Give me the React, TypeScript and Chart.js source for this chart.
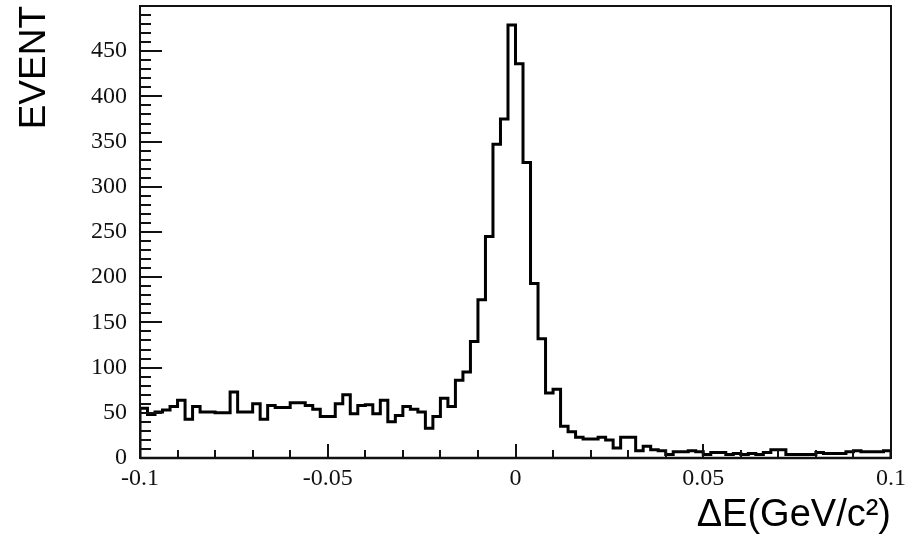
import React, { useEffect, useRef } from "react";
import { Chart, registerables } from "chart.js";

Chart.register(...registerables);

// Histogram definition: ΔE from -0.1 to 0.1 GeV, 100 bins
const histMin = -0.1;
const histMax = 0.1;

// Event counts per bin
const counts: number[] = [
  55, 48, 51, 53, 57, 64, 43, 57, 51, 51,
  50, 50, 73, 51, 51, 60, 43, 58, 56, 56,
  61, 61, 58, 54, 46, 46, 60, 70, 49, 58,
  59, 49, 64, 40, 47, 57, 54, 51, 33, 46,
  66, 57, 86, 95, 129, 175, 245, 347, 375, 479,
  436, 327, 193, 132, 72, 76, 35, 29, 23, 21,
  21, 23, 20, 11, 23, 23, 8, 13, 9, 8,
  4, 7, 7, 8, 7, 4, 6, 6, 4, 5,
  4, 5, 4, 6, 9, 9, 4, 4, 4, 4,
  6, 5, 5, 5, 7, 8, 7, 7, 7, 8,
];

const xTickValues: number[] = [-0.1, -0.05, 0, 0.05, 0.1];
const xTickLabels: string[] = ["-0.1", "-0.05", "0", "0.05", "0.1"];
const xMinorStep = 0.01;
const yTickValues: number[] = [0, 50, 100, 150, 200, 250, 300, 350, 400, 450];
const yTickLabels: string[] = ["0", "50", "100", "150", "200", "250", "300", "350", "400", "450"];
const yMinorStep = 10;
const yMax = 500;

const xTitle = "ΔE(GeV/c²)";
const yTitle = "EVENT";

const framePlugin = {
  id: "rootFrame",
  afterDatasetsDraw(chart: any) {
    const { ctx, chartArea, scales } = chart;
    const { left, right, top, bottom } = chartArea;
    const xs = scales.x;
    const ys = scales.y;
    ctx.save();
    ctx.strokeStyle = "#111";
    ctx.lineWidth = 2;
    ctx.strokeRect(left, top, right - left, bottom - top);
    ctx.lineWidth = 2.5;
    ctx.beginPath();
    ctx.moveTo(left, bottom);
    ctx.lineTo(right, bottom);
    ctx.stroke();
    // y ticks (inward)
    ctx.lineWidth = 2;
    ctx.beginPath();
    for (let v = 0; v <= yMax + 1e-9; v += yMinorStep) {
      const y = Math.round(ys.getPixelForValue(v));
      if (y < top + 1) continue;
      const major = yTickValues.includes(v);
      ctx.moveTo(left, y);
      ctx.lineTo(left + (major ? 22 : 11), y);
    }
    ctx.stroke();
    // x ticks (inward)
    ctx.beginPath();
    const n = Math.round((histMax - histMin) / xMinorStep);
    for (let i = 0; i <= n; i++) {
      const v = histMin + i * xMinorStep;
      const x = Math.round(xs.getPixelForValue(v));
      const major = xTickValues.some((t) => Math.abs(t - v) < 1e-9);
      ctx.moveTo(x, bottom);
      ctx.lineTo(x, bottom - (major ? 14 : 8));
    }
    ctx.stroke();
    ctx.restore();
  },
};

export default function App() {
  const ref = useRef<HTMLCanvasElement | null>(null);

  useEffect(() => {
    if (!ref.current) return;
    const nBins = counts.length;
    const w = (histMax - histMin) / nBins;
    const pts: { x: number; y: number }[] = [{ x: histMin, y: 0 }];
    counts.forEach((c, k) => pts.push({ x: histMin + k * w, y: c }));
    pts.push({ x: histMax, y: counts[nBins - 1] });
    pts.push({ x: histMax, y: 0 });

    const chart = new Chart(ref.current, {
      type: "line",
      data: {
        datasets: [
          {
            data: pts,
            stepped: "before",
            borderColor: "#000",
            borderWidth: 3,
            pointRadius: 0,
            fill: false,
          },
        ],
      },
      options: {
        responsive: false,
        animation: false,
        layout: { padding: { top: 6, right: 18, bottom: 0, left: 0 } },
        plugins: { legend: { display: false }, tooltip: { enabled: false } },
        scales: {
          x: {
            type: "linear",
            min: histMin,
            max: histMax,
            grid: { display: false, drawTicks: false },
            border: { display: false },
            afterFit: (s: any) => {
              s.height = 81;
              s.paddingLeft = 0;
              s.paddingRight = 0;
            },
            afterBuildTicks: (s: any) => {
              s.ticks = xTickValues.map((v) => ({ value: v }));
            },
            ticks: {
              autoSkip: false,
              maxRotation: 0,
              padding: 6,
              color: "#111",
              font: { family: "Liberation Serif", size: 24 },
              callback: (v: any) => {
                const i = xTickValues.findIndex((t) => Math.abs(t - Number(v)) < 1e-9);
                return i >= 0 ? xTickLabels[i] : "";
              },
            },
            title: {
              display: true,
              text: xTitle,
              align: "end",
              color: "#000",
              font: { family: "Liberation Sans", size: 38 },
              padding: { top: 0, bottom: 1 },
            },
          },
          y: {
            type: "linear",
            min: 0,
            max: yMax,
            grid: { display: false, drawTicks: false },
            border: { display: false },
            afterFit: (s: any) => {
              s.width = 140;
              s.paddingTop = 0;
              s.paddingBottom = 0;
            },
            afterBuildTicks: (s: any) => {
              s.ticks = yTickValues.map((v) => ({ value: v }));
            },
            ticks: {
              autoSkip: false,
              padding: 13,
              color: "#111",
              font: { family: "Liberation Serif", size: 24 },
              callback: (v: any) => {
                const i = yTickValues.indexOf(Number(v));
                return i >= 0 ? yTickLabels[i] : "";
              },
            },
            title: {
              display: true,
              text: yTitle,
              align: "end",
              color: "#000",
              font: { family: "Liberation Sans", size: 37 },
              padding: { top: 13, bottom: 0 },
            },
          },
        },
      },
      plugins: [framePlugin],
    });
    return () => chart.destroy();
  }, []);

  return (
    <div style={{ position: "fixed", left: 0, top: 0, width: 909, height: 539, background: "#fff" }}>
      <canvas ref={ref} width={909} height={539} />
    </div>
  );
}
